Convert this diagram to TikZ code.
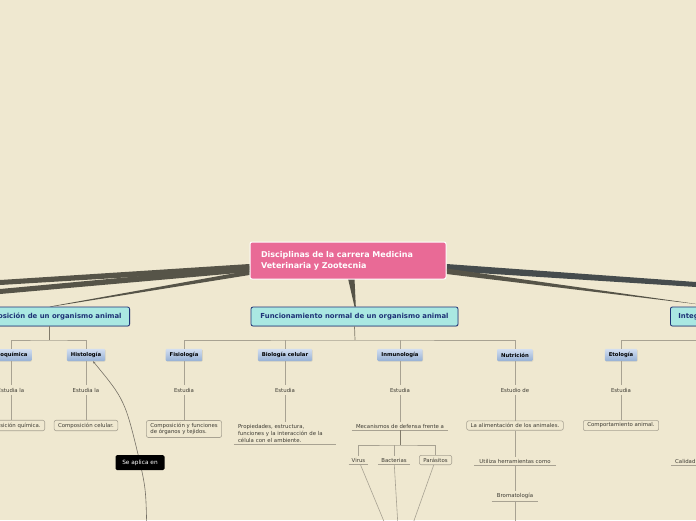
\documentclass[tikz,border=0pt]{standalone}
\usepackage{fontspec}
\setmainfont{DejaVu Sans}
\usetikzlibrary{positioning,calc,shadows,arrows.meta}

\definecolor{paper}{RGB}{239,232,208}
\definecolor{rootpink}{RGB}{233,106,150}
\definecolor{trunkgrey}{RGB}{86,84,72}
\definecolor{trunkslate}{RGB}{70,76,77}
\definecolor{topicfill}{RGB}{170,232,226}
\definecolor{topicedge}{RGB}{30,50,118}
\definecolor{areatop}{RGB}{210,222,240}
\definecolor{areabot}{RGB}{150,176,212}
\definecolor{twig}{RGB}{168,162,146}
\definecolor{bough}{RGB}{128,122,106}
\definecolor{inktext}{RGB}{62,60,52}

\pgfdeclarelayer{paperlayer}
\pgfdeclarelayer{trunk}
\pgfsetlayers{paperlayer,trunk,main}

\begin{document}
\begin{tikzpicture}[
				x=1pt, y=-1pt,
				root/.style={rectangle, draw=white, line width=1pt, fill=rootpink, rounded corners=2pt,
					minimum width=196pt, minimum height=37pt, text width=174pt, align=left,
					text=white, font=\fontsize{8}{11}\selectfont\bfseries},
				topic/.style={rectangle, draw=topicedge, line width=0.8pt, fill=topicfill, rounded corners=2pt,
					minimum height=19pt, inner xsep=8pt, text=topicedge,
					font=\fontsize{6.9}{8}\selectfont\bfseries,
					drop shadow={opacity=0.3, shadow xshift=0.5pt, shadow yshift=-0.8pt}},
				area/.style={rectangle, top color=areatop, bottom color=areabot, rounded corners=1pt,
					minimum height=12pt, inner xsep=4pt, text=black,
					font=\fontsize{5.3}{6}\selectfont\bfseries,
					drop shadow={opacity=0.2, shadow xshift=0.5pt, shadow yshift=-0.6pt}},
				note/.style={inner xsep=3pt, inner ysep=3pt, text=inktext, font=\fontsize{5.4}{6}\selectfont},
				card/.style={note, draw=twig, line width=0.6pt, rounded corners=2pt, inner xsep=4pt, inner ysep=2.5pt},
				shelf/.style={note, inner ysep=2pt,
					append after command={(\tikzlastnode.south west) edge[draw=twig, line width=0.6pt] (\tikzlastnode.south east)}},
				tag/.style={rectangle, fill=black, rounded corners=1.5pt, text=white, minimum width=49pt,
					minimum height=15pt, font=\fontsize{5.8}{6}\selectfont},
				link/.style={draw=twig, line width=0.6pt},
				stem/.style={draw=bough, line width=0.7pt}
				]
				\begin{pgfonlayer}{paperlayer}
				\fill[paper] (0,0) rectangle (696,520);
				\end{pgfonlayer}
				\useasboundingbox (0,0) rectangle (696,520);
				\clip (0,0) rectangle (696,520);
				
				% central idea
				\node[root] (root) at (348,260.5)
				{Disciplinas de la carrera Medicina\\Veterinaria y Zootecnia};
				
				% main topics
				\node[topic, anchor=east] (comp) at (130,316.5) {Composición de un organismo animal};
				\node[topic, minimum width=207pt] (func) at (354.5,316.5) {Funcionamiento normal de un organismo animal};
				\node[topic, anchor=west] (integ) at (670,316.5) {Integración del organismo animal};
				
				% free ends of the trunks
				\coordinate (west1) at (0,282.5);
				\coordinate (west2) at (0,291.5);
				\coordinate (east1) at (696,284.5);
				
				% tapered trunks
				\begin{pgfonlayer}{trunk}
				\fill[trunkgrey] ($(root.west)+(0,3.5)$) -- ($(west1)+(0,-2.5)$) -- ($(west1)+(0,2.5)$) -- ($(root.west)+(0,9.5)$) -- cycle;
				\fill[trunkgrey] ($(root.west)+(0,5.5)$) -- ($(west2)+(0,-2.5)$) -- ($(west2)+(0,2.5)$) -- ($(root.west)+(0,11.5)$) -- cycle;
				\fill[trunkgrey] ($(root.west)+(0,10)$) -- ($(comp.north east)+(-80.5,0)$) -- ($(comp.north east)+(-78,0)$) -- ($(root.west)+(0,14.5)$) -- cycle;
				\fill[trunkslate] ($(root.east)+(0,3.5)$) -- ($(east1)+(0,-2.5)$) -- ($(east1)+(0,2.5)$) -- ($(root.east)+(0,10.5)$) -- cycle;
				\fill[trunkgrey] ($(root.east)+(0,8)$) -- ($(integ.north west)+(45,0)$) -- ($(integ.north west)+(47,0)$) -- ($(root.east)+(0,13.5)$) -- cycle;
				\fill[trunkgrey] ($(root.south)+(0,-1)$) -- (func.north) -- ($(func.north)+(1.3,0)$) -- ($(root.south)+(6.5,-1)$) -- cycle;
				\end{pgfonlayer}
				
				% areas
				\node[area] (bioq) at (11,355) {Bioquímica};
				\node[area] (hist) at (86,355) {Histología};
				\node[area] (fisio) at (184,355) {Fisiología};
				\node[area] (biocel) at (285,355) {Biología celular};
				\node[area] (inmuno) at (400,355) {Inmunología};
				\node[area] (nutri) at (515,355) {Nutrición};
				\node[area] (etol) at (621,355) {Etología};
				
				% verbs
				\node[note] (est1) at (11,390) {Estudia la};
				\node[note] (est2) at (86,390) {Estudia la};
				\node[note] (est3) at (184,390) {Estudia};
				\node[note] (est4) at (285,390) {Estudia};
				\node[note] (est5) at (400,390) {Estudia};
				\node[note] (est6) at (515,390) {Estudio de};
				\node[note] (est7) at (621,390) {Estudia};
				
				% contents
				\node[card, anchor=east] (quim) at (45,425.5) {Composición química.};
				\node[card] (cel) at (86,425.5) {Composición celular.};
				\node[card, align=left, font=\fontsize{5.4}{6.5}\selectfont] (organos) at (184,429)
				{Composición y funciones\\de órganos y tejidos.};
				\node[shelf, text width=94pt, inner xsep=4pt, align=left, font=\fontsize{5.4}{7}\selectfont] (propi) at (285,433)
				{Propiedades, estructura,\\funciones y la interacción de la\\célula con el ambiente.};
				\node[shelf, inner xsep=4pt] (mecan) at (400,426) {Mecanismos de defensa frente a};
				\node[card] (alim) at (515,425.5) {La alimentación de los animales.};
				\node[card] (comport) at (621,425.5) {Comportamiento animal.};
				
				\node[shelf] (virus) at (358.5,460) {Virus};
				\node[shelf] (bact) at (394,460) {Bacterias};
				\node[card] (paras) at (435.5,460) {Parásitos};
				\node[shelf, inner xsep=5pt] (utiliza) at (515,461) {Utiliza herramientas como};
				\node[shelf, inner xsep=5pt] (broma) at (515,496) {Bromatología};
				\node[shelf, anchor=west, inner xsep=4pt] (calidad) at (671,461) {Calidad};
				
				% forks
				\coordinate (compfork) at (49,340);
				\coordinate (funcfork) at (355,340);
				\coordinate (integfork) at (720,340);
				\coordinate (immfork) at (400,445);
				\coordinate (defsink) at (400,560);
				\coordinate (nutrisink) at (515,560);
				\coordinate (applysink) at (147,540);
				\coordinate (aplicapt) at (140,462.5);
				
				\draw[stem] (comp.south -| compfork) -- (compfork);
				\draw[link] (bioq.north) |- (compfork) -| (hist.north);
				\draw[stem] (func.south) -- (funcfork);
				\draw[link] (fisio.north) |- (funcfork) -| (nutri.north);
				\draw[link] (biocel.north) -- (biocel.north |- funcfork);
				\draw[link] (inmuno.north) -- (inmuno.north |- funcfork);
				\draw[link] (etol.north) |- (integfork);
				
				\draw[link] (bioq) -- (est1);
				\draw[link] (est1.south) -- (est1.south |- quim.north);
				\draw[link] (hist) -- (est2) -- (cel);
				\draw[link] (fisio) -- (est3) -- (organos);
				\draw[link] (biocel) -- (est4) -- (est4.south |- propi.north);
				\draw[link] (inmuno) -- (est5) -- (mecan);
				\draw[link] (nutri) -- (est6) -- (alim) -- (utiliza) -- (broma) -- (nutrisink);
				\draw[link] (etol) -- (est7) -- (comport);
				
				\draw[stem, line width=1pt] (mecan.south) -- (immfork);
				\draw[link] (virus.north) |- (immfork) -| (paras.north);
				\draw[link] (bact.north) -- (bact.north |- immfork);
				\draw[link] (virus) -- (defsink);
				\draw[link] (bact) -- (defsink);
				\draw[link] (paras) -- (defsink);
				
				\draw[link, draw=twig!70!black, {Stealth[length=2.5pt,width=2pt]}-] ([xshift=7pt]hist.south)
				.. controls (125,400) .. (aplicapt) .. controls (146,490) .. (applysink);
				\node[tag] (aplica) at (aplicapt) {Se aplica en};
			\end{tikzpicture}
\end{document}
